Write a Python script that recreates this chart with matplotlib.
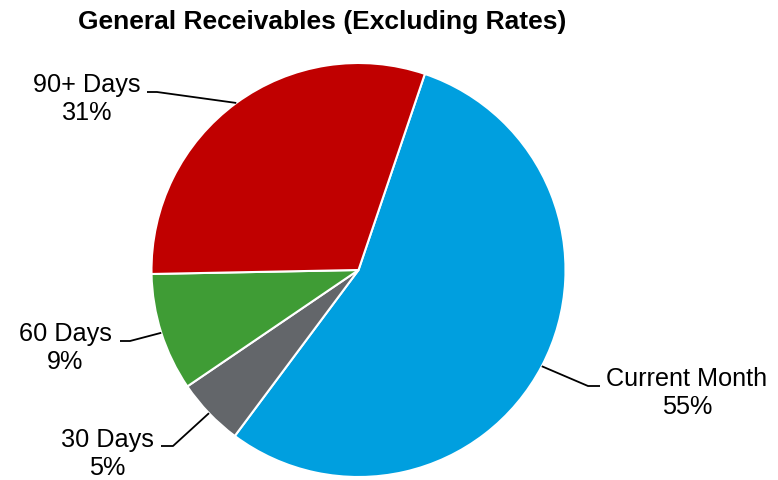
import matplotlib.pyplot as plt
import numpy as np

plt.rcParams['font.family'] = ['Liberation Sans', 'DejaVu Sans']

categories = ['Current Month', '30 Days', '60 Days', '90+ Days']
shares = [55.0, 5.3, 9.2, 30.5]
pct_labels = ['55%', '5%', '9%', '31%']
colors = ['#009FDF', '#63666A', '#3F9C35', '#C00000']

# label placement (pixel coords of text centre and elbow of leader line)
label_pos = {
    'Current Month': (687, 393),
    '30 Days': (107, 454),
    '60 Days': (65, 348),
    '90+ Days': (87, 99),
}
elbow_pos = {
    'Current Month': ((588, 387), (600, 387)),
    '30 Days': ((173, 447), (161, 447)),
    '60 Days': ((130, 342), (120, 342)),
    '90+ Days': ((157, 93), (147, 93)),
}

W, H = 778, 481
cx, cy, r = 358.5, 271, 207

fig = plt.figure(figsize=(W / 100, H / 100), dpi=100)
ax = fig.add_axes([(cx - r) / W, (H - cy - r) / H, 2 * r / W, 2 * r / H])

start = 71.3
wedges, _ = ax.pie(shares, colors=colors, startangle=start, counterclock=False,
                   wedgeprops=dict(edgecolor='white', linewidth=1.5))
ax.set_xlim(-1, 1)
ax.set_ylim(-1, 1)
ax.axis('off')


def to_data(p):
    return ((p[0] - cx) / r, (cy - p[1]) / r)


for w, cat, lab in zip(wedges, categories, pct_labels):
    mid = np.deg2rad((w.theta1 + w.theta2) / 2)
    anchor = (np.cos(mid), np.sin(mid))
    e1, e2 = elbow_pos[cat]
    p1 = to_data(e1)
    p2 = to_data(e2)
    ax.plot([anchor[0], p1[0], p2[0]], [anchor[1], p1[1], p2[1]],
            color='black', lw=1.3, clip_on=False, solid_capstyle='butt')
    tx, ty = to_data(label_pos[cat])
    ax.text(tx, ty, f'{cat}\n{lab}', ha='center', va='center', fontsize=18.2,
            linespacing=1.2, clip_on=False)

fig.text(322 / W, 1 - 22 / H, 'General Receivables (Excluding Rates)',
         ha='center', va='center', fontsize=19, fontweight='bold')

fig.savefig('out.png', dpi=100)
